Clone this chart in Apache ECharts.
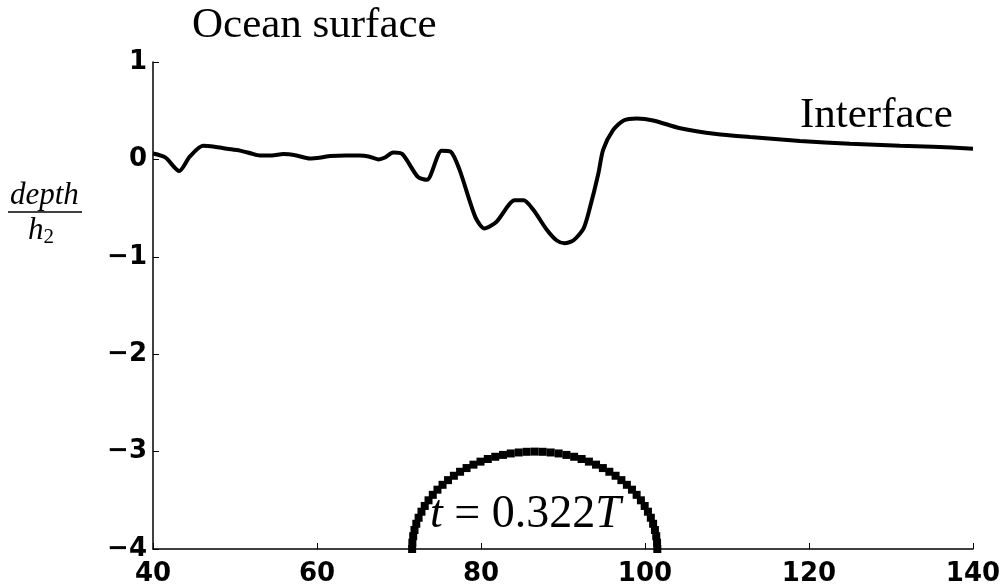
<!DOCTYPE html>
<html>
<head>
<meta charset="utf-8">
<script src="https://cdn.jsdelivr.net/npm/echarts@6/dist/echarts.min.js"></script>
<style>html,body{margin:0;padding:0;background:#fff}#c{width:1008px;height:588px}</style>
</head>
<body>
<div id="c"></div>
<script>
// Interface curve (x, depth/h2)
const ifaceX = [40, 41.5, 43.2, 44.5, 46.1, 47.5, 49, 50.6, 52, 53, 54.5, 55.9, 57.5, 59.1, 60.5, 61.6, 63.5, 65.2, 66.3, 67.5, 68.3, 69.3, 70.4, 72.3, 73.4, 75.2, 76.3, 77.4, 79.3, 80.4, 81.9, 84.1, 85.2, 86.4, 88.0, 89.2, 90.2, 91.3, 92.5, 93.3, 94.3, 94.9, 96.1, 97.4, 99.0, 101.0, 104.3, 108.7, 112.8, 118.9, 125, 131.1, 135.1, 140];
const ifaceY = [0.06, 0.02, -0.12, 0.03, 0.14, 0.13, 0.11, 0.09, 0.06, 0.04, 0.04, 0.055, 0.04, 0.01, 0.02, 0.035, 0.04, 0.04, 0.03, 0.0, 0.02, 0.07, 0.055, -0.18, -0.21, 0.09, 0.08, -0.11, -0.59, -0.71, -0.64, -0.42, -0.42, -0.52, -0.72, -0.83, -0.86, -0.83, -0.71, -0.49, -0.15, 0.10, 0.30, 0.40, 0.42, 0.40, 0.32, 0.26, 0.23, 0.19, 0.16, 0.14, 0.13, 0.11];

// Cylinder (semicircular body) marker positions
const cylX = [101.50, 101.47, 101.37, 101.21, 100.99, 100.71, 100.36, 99.96, 99.50, 98.98, 98.41, 97.79, 97.12, 96.41, 95.65, 94.86, 94.03, 93.16, 92.27, 91.36, 90.42, 89.47, 88.50, 87.53, 86.55,
  85.57, 84.60, 83.63, 82.68, 81.74, 80.83, 79.94, 79.08, 78.24, 77.45, 76.69, 75.98, 75.31, 74.69, 74.12, 73.60, 73.14, 72.74, 72.39, 72.11, 71.89, 71.73, 71.63, 71.60];
const cylY = [-4, -3.935, -3.869, -3.805, -3.741, -3.679, -3.617, -3.558, -3.5, -3.444, -3.391, -3.341, -3.293, -3.248, -3.207, -3.169, -3.134, -3.103, -3.076, -3.053, -3.034, -3.019, -3.009, -3.002, -3,
  -3.002, -3.009, -3.019, -3.034, -3.053, -3.076, -3.103, -3.134, -3.169, -3.207, -3.248, -3.293, -3.341, -3.391, -3.444, -3.5, -3.558, -3.617, -3.679, -3.741, -3.805, -3.869, -3.935, -4];

const xTicks = [40, 60, 80, 100, 120, 140];
const yTicks = [-4, -3, -2, -1, 0, 1];

const chart = echarts.init(document.getElementById('c'), null, {renderer: 'canvas'});
const fmt = v => (v < 0 ? '\u2212' + Math.abs(v) : String(v));
const tickFont = {fontFamily: 'DejaVu Sans', fontWeight: 'bold', fontSize: 26, color: '#000'};

chart.setOption({
  animation: false,
  backgroundColor: '#fff',
  grid: {left: 153, right: 35, top: 62, bottom: 39},
  xAxis: {
    type: 'value', min: xTicks[0], max: xTicks[xTicks.length - 1], interval: 20,
    axisLine: {onZero: false, lineStyle: {color: '#000', width: 1.5}},
    axisTick: {inside: true, length: 6, lineStyle: {color: '#000'}},
    splitLine: {show: false},
    axisLabel: Object.assign({margin: 12, formatter: fmt}, tickFont)
  },
  yAxis: {
    type: 'value', min: yTicks[0], max: yTicks[yTicks.length - 1], interval: 1,
    axisLine: {show: true, onZero: false, lineStyle: {color: '#000', width: 1.5}},
    axisTick: {show: true, inside: true, length: 6, lineStyle: {color: '#000'}},
    splitLine: {show: false},
    axisLabel: Object.assign({margin: 6, formatter: fmt}, tickFont)
  },
  series: [
    {
      type: 'line',
      data: ifaceX.map((x, i) => [x, ifaceY[i]]),
      showSymbol: false,
      smooth: 0.25,
      lineStyle: {color: '#000', width: 4},
      z: 3
    },
    {
      type: 'scatter',
      data: cylX.map((x, i) => [x, cylY[i]]),
      symbol: 'rect',
      symbolSize: 8,
      itemStyle: {color: '#000', opacity: 1},
      clip: false,
      z: 2
    }
  ],
  graphic: [
    {type: 'text', left: 192, top: 4, style: {text: 'Ocean surface', font: '43px "Liberation Serif"', fill: '#000'}},
    {type: 'text', left: 800, top: 94, style: {text: 'Interface', font: '43px "Liberation Serif"', fill: '#000'}},
    {type: 'text', left: 430, top: 492, z: 10, style: {
      text: '{i|t} = 0.322{i|T}',
      rich: {i: {fontFamily: 'Liberation Serif', fontStyle: 'italic', fontSize: 46, fill: '#000'}},
      font: '46px "Liberation Serif"', fill: '#000'}},
    {type: 'text', left: 10, top: 180, style: {text: 'depth', font: 'italic 31px "Liberation Serif"', fill: '#000'}},
    {type: 'line', shape: {x1: 8, y1: 212, x2: 82, y2: 212}, style: {stroke: '#000', lineWidth: 1.5}},
    {type: 'text', left: 28, top: 215, style: {
      text: '{h|h}{s|2}',
      rich: {h: {fontFamily: 'Liberation Serif', fontStyle: 'italic', fontSize: 31, fill: '#000'},
             s: {fontFamily: 'Liberation Serif', fontSize: 21, fill: '#000', padding: [14, 0, 0, 0]}}
    }}
  ]
});
</script>
</body>
</html>
